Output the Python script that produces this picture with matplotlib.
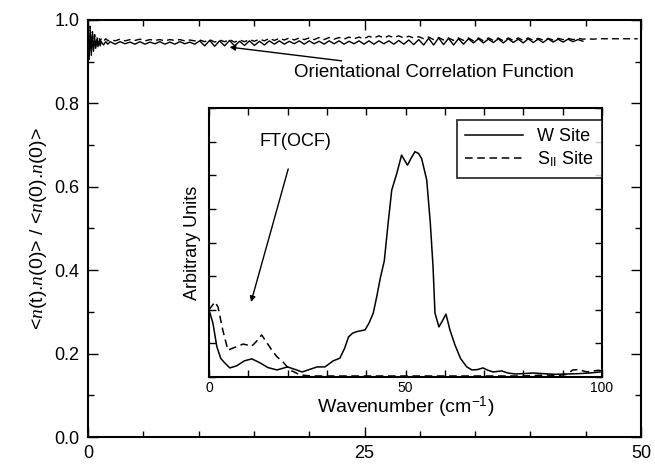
import numpy as np
import matplotlib
matplotlib.use("Agg")
import matplotlib.pyplot as plt
from matplotlib.ticker import MultipleLocator

plt.rcParams['font.family'] = ['Liberation Sans', 'DejaVu Sans']
plt.rcParams['mathtext.fontset'] = 'custom'
plt.rcParams['mathtext.rm'] = 'Liberation Sans'
plt.rcParams['mathtext.it'] = 'Liberation Serif:italic'
plt.rcParams['mathtext.bf'] = 'Liberation Sans:bold'

# ---------------- main OCF data ----------------
t_early = [0.0, 0.1, 0.2, 0.3, 0.4, 0.5, 0.6, 0.7, 0.8, 0.9, 1.0, 1.1, 1.2, 1.4, 1.6, 1.8]
w_early = [1.0, 0.905, 0.975, 0.915, 0.965, 0.925, 0.958, 0.932, 0.953, 0.936,
           0.950, 0.938, 0.948, 0.940, 0.948, 0.942]
s_early = [1.0, 0.92, 0.985, 0.93, 0.972, 0.938, 0.965, 0.942, 0.960, 0.945,
           0.957, 0.948, 0.955, 0.949, 0.955, 0.950]

t_step = 0.45
w_ocf = [0.948, 0.942, 0.948, 0.943, 0.947, 0.942, 0.948, 0.942, 0.947, 0.943, 0.948, 0.942, 0.947, 0.942, 0.948, 0.943, 0.947, 0.942,
         0.950, 0.938, 0.951, 0.937, 0.950, 0.938, 0.951, 0.938, 0.949, 0.939, 0.950, 0.939, 0.949, 0.940,
         0.950, 0.942, 0.950, 0.942, 0.949, 0.943, 0.950, 0.942, 0.950, 0.943, 0.949, 0.942, 0.950, 0.943, 0.950, 0.942, 0.949, 0.943, 0.950, 0.942,
         0.950, 0.942, 0.950, 0.943, 0.950, 0.942, 0.951, 0.942, 0.952, 0.941, 0.953,
         0.940, 0.956, 0.940, 0.957, 0.941, 0.956, 0.940, 0.955, 0.942,
         0.955, 0.945, 0.955, 0.945, 0.954, 0.946, 0.955, 0.945, 0.955, 0.946, 0.954, 0.945, 0.955, 0.946, 0.954, 0.946, 0.955, 0.947, 0.954, 0.947, 0.954, 0.948, 0.953, 0.949]
s_ocf = [0.953, 0.950, 0.954, 0.950, 0.953, 0.951, 0.954, 0.950, 0.953, 0.951, 0.953, 0.950, 0.953, 0.951, 0.953, 0.950, 0.952, 0.950,
         0.952, 0.948, 0.953, 0.947, 0.952, 0.948, 0.953, 0.947, 0.952, 0.948, 0.953, 0.949, 0.954, 0.950,
         0.956, 0.951, 0.956, 0.952, 0.957, 0.952, 0.957, 0.953, 0.957, 0.953, 0.958, 0.953, 0.958, 0.954, 0.958, 0.954, 0.959, 0.955, 0.959, 0.955,
         0.961, 0.957, 0.962, 0.957, 0.962, 0.958, 0.962, 0.957, 0.961, 0.957, 0.960,
         0.955, 0.959, 0.953, 0.958, 0.952, 0.957, 0.951, 0.957, 0.951,
         0.957, 0.950, 0.957, 0.950, 0.957, 0.951, 0.957, 0.950, 0.957, 0.951, 0.957, 0.951, 0.957, 0.951, 0.956, 0.952, 0.956, 0.952, 0.956, 0.953, 0.956, 0.953, 0.956, 0.954,
         0.955, 0.954, 0.955, 0.955, 0.955, 0.955, 0.955, 0.955, 0.955, 0.955, 0.955]

t_w = np.concatenate([t_early, 2.0 + t_step * np.arange(len(w_ocf))])
y_w = np.concatenate([w_early, w_ocf])
t_s = np.concatenate([t_early, 2.0 + t_step * np.arange(len(s_ocf))])
y_s = np.concatenate([s_early, s_ocf])

# ---------------- inset FT data ----------------
wn_w = [0, 1, 2, 3, 4, 5.3, 7, 9, 10.9, 13, 15, 17.3, 20, 22, 23.7, 25.5, 27.5, 29.5, 31.6, 33.3,
        34.5, 35.5, 36.5, 37.6, 39.7, 40.7, 41.8, 42.7, 43.6, 44.6, 45.6, 46.5, 47.8, 49.0, 50.5,
        51.4, 52.4, 53.3, 54.1, 55.4, 56.3, 57.0, 57.5, 58.5, 59.3, 60.3, 61.3, 62.6, 64.0, 65.6,
        66.9, 68.3, 69.7, 71.0, 72.3, 74.5, 76.0, 77.9, 80.0, 82.5, 85.0, 88.0, 91.0, 94.0, 97.0, 99.5]
ft_w = [2.0, 1.6, 0.9, 0.55, 0.42, 0.27, 0.33, 0.48, 0.54, 0.42, 0.28, 0.21, 0.30, 0.22, 0.15, 0.22, 0.30, 0.30, 0.48, 0.56,
        0.85, 1.19, 1.30, 1.35, 1.40, 1.60, 1.90, 2.40, 2.95, 3.45, 4.60, 5.56, 6.06, 6.60, 6.30,
        6.50, 6.70, 6.65, 6.50, 5.86, 4.60, 3.30, 1.90, 1.49, 1.65, 1.87, 1.40, 0.95, 0.55, 0.30,
        0.21, 0.22, 0.27, 0.20, 0.15, 0.18, 0.12, 0.09, 0.10, 0.12, 0.10, 0.08, 0.09, 0.10, 0.12, 0.15]
wn_s = [0, 1.5, 2.3, 3.5, 4.8, 6.1, 8.7, 10.9, 12.0, 13.4, 14.6, 16.0, 17.3, 18.8, 20.6, 23.2, 26.0,
        40.0, 60.0, 80.0, 86.0, 88.0, 91.0, 92.6, 94.0, 96.2, 99.0, 100.0]
ft_s = [2.0, 2.23, 2.08, 1.40, 0.80, 0.86, 0.98, 0.92, 1.05, 1.25, 1.04, 0.80, 0.60, 0.45, 0.21, 0.06, 0.03,
        0.03, 0.03, 0.03, 0.06, 0.03, 0.08, 0.21, 0.22, 0.15, 0.20, 0.18]

fig = plt.figure(figsize=(6.55, 4.66), dpi=100)
ax = fig.add_axes([88/655, 1 - 437/466, (641-88)/655, (437-20)/466])
ax.plot(t_w, y_w, color='black', lw=1.0)
ax.plot(t_s, y_s, color='black', lw=1.0, dashes=(5, 3))
ax.set_xlim(0, 50)
ax.set_ylim(0, 1.0)
ax.xaxis.set_major_locator(MultipleLocator(25))
ax.xaxis.set_minor_locator(MultipleLocator(5))
ax.yaxis.set_major_locator(MultipleLocator(0.2))
ax.yaxis.set_minor_locator(MultipleLocator(0.1))
ax.yaxis.set_major_formatter(matplotlib.ticker.FormatStrFormatter('%.1f'))
ax.tick_params(which='both', direction='in', top=True, right=True, width=1.0)
ax.tick_params(which='major', length=7, labelsize=13, pad=6)
ax.tick_params(which='minor', length=4)
for s in ax.spines.values():
    s.set_linewidth(1.5)
ax.set_ylabel(r"<$\mathit{n}$(t).$\mathit{n}$(0)> / <$\mathit{n}$(0).$\mathit{n}$(0)>", fontsize=14, labelpad=4)

ax.annotate("Orientational Correlation Function", xy=(12.8, 0.935), xytext=(18.6, 0.875),
            fontsize=13.5, va='center', ha='left',
            arrowprops=dict(arrowstyle='-|>', color='black', lw=1.0, mutation_scale=8,
                            shrinkA=0, shrinkB=0))

# ---------------- inset ----------------
ai = fig.add_axes([209/655, 1 - 377/466, (602-209)/655, (377-108)/466])
ai.plot(wn_w, ft_w, color='black', lw=1.1, label='W Site')
ai.plot(wn_s, ft_s, color='black', lw=1.1, dashes=(5, 3), label=r'S$_{\mathrm{II}}$ Site')
ai.set_xlim(0, 100)
ai.set_ylim(0, 8)
ai.xaxis.set_major_locator(MultipleLocator(50))
ai.xaxis.set_minor_locator(MultipleLocator(10))
ai.yaxis.set_major_locator(MultipleLocator(1))
ai.tick_params(which='both', direction='in', top=True, right=True, width=1.0)
ai.tick_params(which='major', length=5, labelsize=10, pad=3)
ai.tick_params(axis='y', labelleft=False)
ai.tick_params(which='minor', length=5)
for s in ai.spines.values():
    s.set_linewidth(1.5)
ai.set_xlabel(r"Wavenumber (cm$^{-1}$)", fontsize=14, labelpad=0)
ai.set_ylabel("Arbitrary Units", fontsize=13, labelpad=6)
ai.annotate("FT(OCF)", xy=(10.7, 2.23), xytext=(22.1, 7.0), fontsize=13, ha='center', va='center',
            arrowprops=dict(arrowstyle='-|>', color='black', lw=1.0, mutation_scale=8,
                            shrinkA=12, shrinkB=0))
leg = ai.legend(loc='upper right', fontsize=13, frameon=True, fancybox=False, edgecolor='black',
                handlelength=3.2, borderaxespad=0.0, bbox_to_anchor=(1.0, 0.955),
                labelspacing=0.25, borderpad=0.45, handletextpad=0.8)
leg.get_frame().set_linewidth(1.3)

fig.savefig("out.png", dpi=100)
